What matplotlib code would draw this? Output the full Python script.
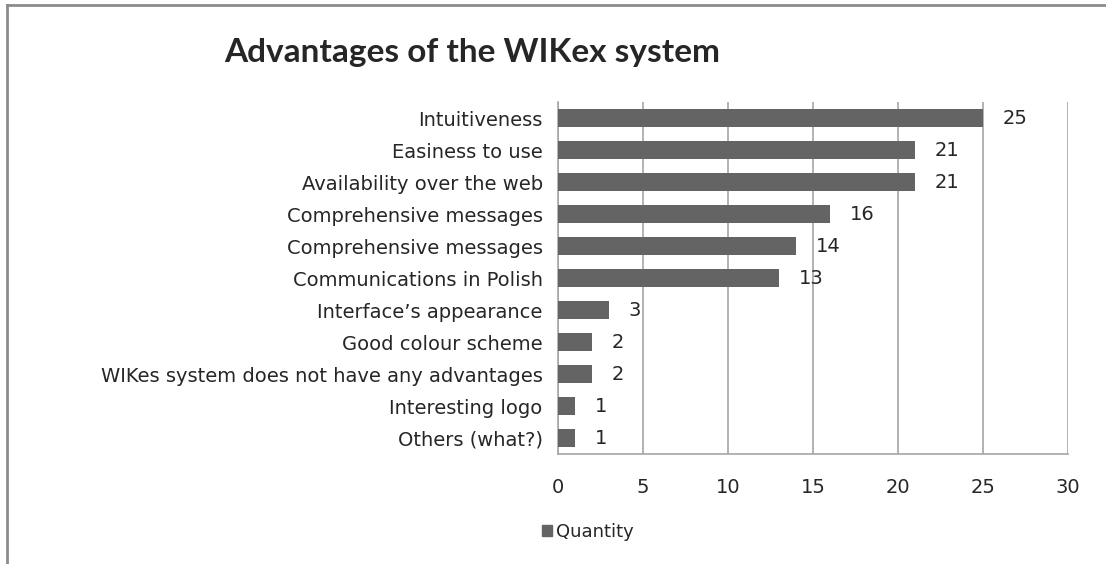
import matplotlib.pyplot as plt
from matplotlib.lines import Line2D
from matplotlib.patches import Patch

# Chart data
categories = ['Intuitiveness', 'Easiness to use', 'Availability over the web',
              'Comprehensive messages', 'Comprehensive messages',
              'Communications in Polish', 'Interface\u2019s appearance',
              'Good colour scheme', 'WIKes system does not have any advantages',
              'Interesting logo', 'Others (what?)']
quantity = [25, 21, 21, 16, 14, 13, 3, 2, 2, 1, 1]
x_ticks = [0, 5, 10, 15, 20, 25, 30]

plt.rcParams['font.family'] = ['DejaVu Sans']
bar_color = '#646464'
text_color = '#262626'
grid_color = '#a6a6a6'

fig = plt.figure(figsize=(11.06, 5.64), dpi=100)
ax = fig.add_axes([558 / 1106, 1 - 454 / 564, 510 / 1106, 352 / 564])

y = list(range(len(categories)))
bars = ax.barh(y, quantity, height=0.55, color=bar_color, zorder=3)
ax.set_ylim(len(categories) - 0.5, -0.5)
ax.set_xlim(0, 30)
ax.set_xticks(x_ticks)
ax.set_yticks(y)
ax.set_yticklabels(categories, fontsize=14, color=text_color)
ax.tick_params(axis='x', labelsize=14, colors=text_color, length=0, pad=17)
ax.tick_params(axis='y', length=0, pad=11)
ax.grid(axis='x', color=grid_color, linewidth=1.2, zorder=0)

for side in ['top', 'right']:
    ax.spines[side].set_visible(False)
for side in ['left', 'bottom']:
    ax.spines[side].set_color(grid_color)
    ax.spines[side].set_linewidth(1.2)

# value labels
for bar, val in zip(bars, quantity):
    ax.text(val + 1.15, bar.get_y() + bar.get_height() / 2, str(val),
            va='center', ha='left', fontsize=14, color=text_color, zorder=4)

fig.text(472 / 1106, 1 - 62 / 564, 'Advantages of the WIKex system',
         ha='center', va='baseline', fontsize=24, fontweight='bold',
         family=['Lato', 'DejaVu Sans'], color=text_color)

# legend
fig.legend(handles=[Patch(color=bar_color, label='Quantity')],
           loc='center', bbox_to_anchor=(588 / 1106, 1 - 532 / 564),
           frameon=False, fontsize=13, handlelength=0.55, handleheight=0.55,
           handletextpad=0.2, labelcolor=text_color)

# chart frame (left and top edges visible)
fig.add_artist(Line2D([7 / 1106, 7 / 1106], [0, 1 - 5 / 564],
                      transform=fig.transFigure, color='#8c8c8c', linewidth=2))
fig.add_artist(Line2D([7 / 1106, 1], [1 - 5 / 564, 1 - 5 / 564],
                      transform=fig.transFigure, color='#8c8c8c', linewidth=2))

fig.savefig('out.png', dpi=100)
